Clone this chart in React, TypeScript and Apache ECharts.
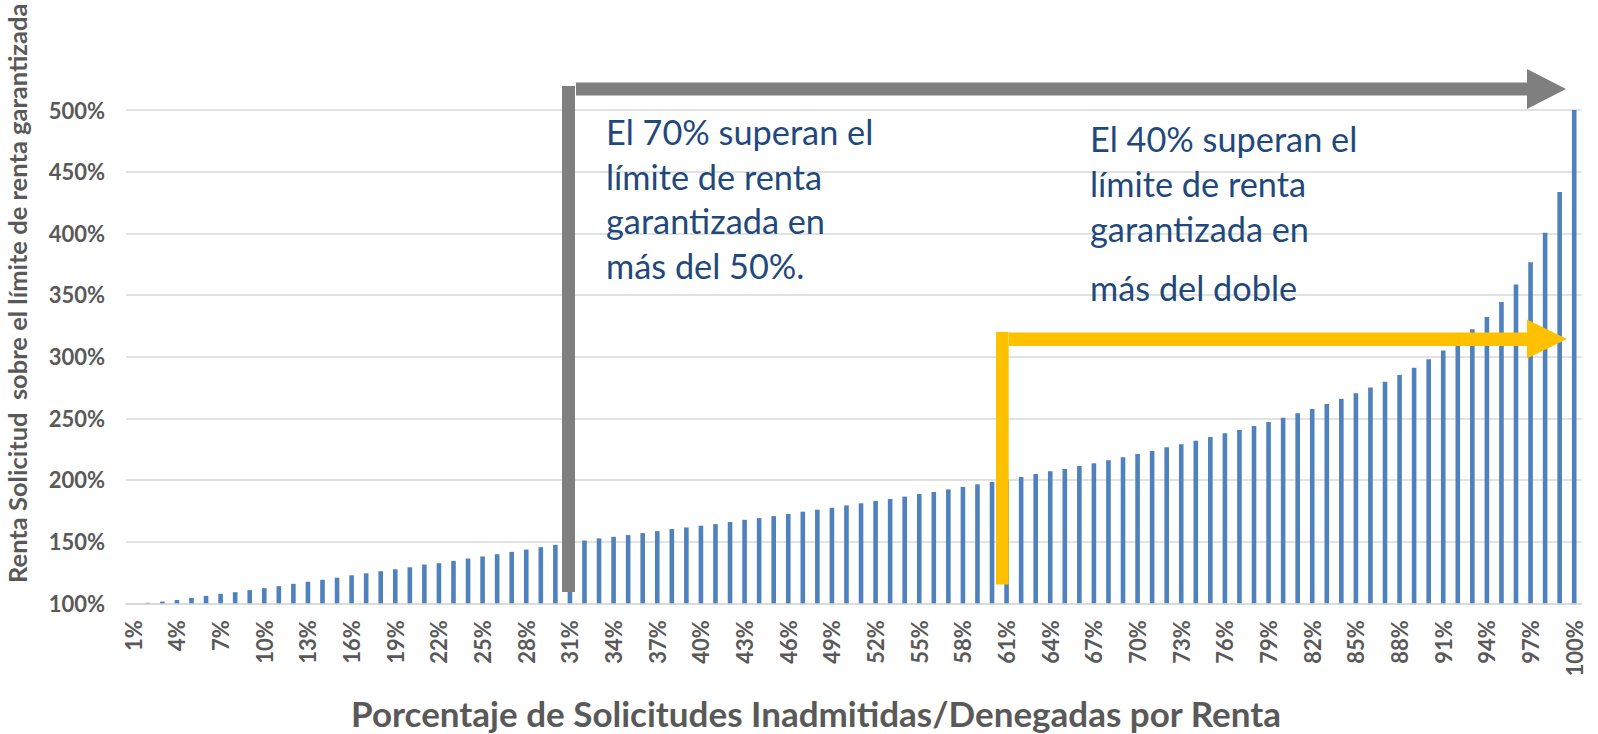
import React, { useEffect, useRef } from "react";
import * as echarts from "echarts";

const categories: string[] = Array.from({ length: 100 }, (_, i) => `${i + 1}%`);

const ratioValues: number[] = [
  100.0, 100.4, 101.4, 102.7, 104.4, 106.0, 107.7, 109.0, 110.7, 112.3,
  113.9, 115.8, 117.5, 119.1, 120.8, 122.7, 124.3, 126.0, 127.6, 129.2,
  131.4, 132.5, 134.4, 136.3, 138.0, 139.8, 141.7, 143.6, 145.5, 147.4,
  149.2, 150.9, 152.6, 153.9, 155.3, 156.9, 158.5, 160.2, 161.5, 162.9,
  164.2, 165.9, 167.7, 169.1, 170.7, 172.4, 174.3, 175.9, 177.5, 179.4,
  181.1, 183.0, 184.6, 186.5, 188.6, 190.3, 192.4, 194.3, 196.5, 198.4,
  200.3, 202.4, 204.9, 207.0, 208.9, 211.4, 213.5, 216.0, 218.4, 221.1,
  223.5, 226.5, 228.9, 231.9, 234.9, 237.8, 240.5, 243.8, 247.0, 250.5,
  254.1, 257.6, 261.6, 265.7, 270.3, 274.9, 279.7, 285.1, 291.1, 297.8,
  304.9, 313.0, 322.2, 332.2, 344.3, 358.6, 376.5, 400.5, 433.5, 500.0,
];

const yAxisTitle = "Renta Solicitud  sobre el límite de renta garantizada";
const xAxisTitle = "Porcentaje de Solicitudes Inadmitidas/Denegadas por Renta";
const note70: string[] = ["El 70% superan el", "límite de renta", "garantizada en", "más del 50%."];
const note40: string[] = ["El 40% superan el", "límite de renta", "garantizada en", "más del doble"];

const FONT = "Lato, 'Noto Sans', sans-serif";
const GRAY_TEXT = "#595959";
const NOTE_COLOR = "#1F497D";

export default function App() {
  const ref = useRef<HTMLDivElement>(null);

  useEffect(() => {
    if (!ref.current) return;
    const chart = echarts.init(ref.current, undefined, { renderer: "svg" });

    const noteSize = 34.3;
    const mid = (baseline: number) => baseline - 0.387 * noteSize;
    const note70Base = [145, 189.3, 234, 278.3];
    const note40Base = [151.7, 196.7, 241.7, 300.7];

    const noteTexts: any[] = [];
    note70.forEach((t, i) =>
      noteTexts.push({
        type: "text",
        x: 606,
        y: mid(note70Base[i]),
        style: { text: t, fill: NOTE_COLOR, font: `${noteSize}px ${FONT}`, align: "left", verticalAlign: "middle" },
        z: 20,
      })
    );
    note40.forEach((t, i) =>
      noteTexts.push({
        type: "text",
        x: 1090,
        y: mid(note40Base[i]),
        style: { text: t, fill: NOTE_COLOR, font: `${noteSize}px ${FONT}`, align: "left", verticalAlign: "middle" },
        z: 20,
      })
    );

    chart.setOption({
      animation: false,
      textStyle: { fontFamily: FONT },
      grid: { left: 126, right: 16.5, top: 110, bottom: 130.7, containLabel: false },
      xAxis: {
        type: "category",
        data: categories,
        boundaryGap: true,
        axisTick: { show: false },
        axisLine: { show: true, lineStyle: { color: "#D9D9D9", width: 1.5 } },
        axisLabel: {
          interval: 2,
          rotate: 90,
          margin: 17,
          fontSize: 22,
          fontWeight: "bold",
          color: GRAY_TEXT,
          fontFamily: FONT,
        },
      },
      yAxis: {
        type: "value",
        min: 100,
        max: 500,
        interval: 50,
        axisLine: { show: false },
        axisTick: { show: false },
        splitLine: { lineStyle: { color: "#D9D9D9", width: 1.5 } },
        axisLabel: {
          formatter: "{value}%",
          margin: 21,
          fontSize: 22,
          fontWeight: "bold",
          color: GRAY_TEXT,
          fontFamily: FONT,
        },
      },
      series: [
        {
          type: "bar",
          data: ratioValues,
          barWidth: 4.6,
          itemStyle: { color: "#4F81BD" },
        },
      ],
      graphic: [
        {
          type: "text",
          x: 17,
          y: 583,
          rotation: Math.PI / 2,
          style: {
            text: yAxisTitle,
            fill: GRAY_TEXT,
            font: `bold 25.5px ${FONT}`,
            align: "left",
            verticalAlign: "middle",
          },
        },
        {
          type: "text",
          x: 816,
          y: 727 - 0.387 * 35,
          style: {
            text: xAxisTitle,
            fill: GRAY_TEXT,
            font: `bold 35px ${FONT}`,
            align: "center",
            verticalAlign: "middle",
          },
        },
        // gray annotation: vertical bar + arrow to the right
        {
          type: "rect",
          shape: { x: 562, y: 86, width: 13, height: 506 },
          style: { fill: "#7F7F7F" },
          z: 10,
        },
        {
          type: "polygon",
          shape: {
            points: [
              [576, 82.5], [1527, 82.5], [1527, 69], [1566, 89], [1527, 109], [1527, 95.5], [576, 95.5],
            ],
          },
          style: { fill: "#7F7F7F" },
          z: 10,
        },
        // yellow annotation
        {
          type: "rect",
          shape: { x: 996, y: 332, width: 12.7, height: 252.5 },
          style: { fill: "#FFC000" },
          z: 10,
        },
        {
          type: "polygon",
          shape: {
            points: [
              [1009, 332.5], [1527, 332.5], [1527, 319.5], [1567, 339], [1527, 358.5], [1527, 346], [1009, 346],
            ],
          },
          style: { fill: "#FFC000" },
          z: 10,
        },
        ...noteTexts,
      ],
    });

    return () => chart.dispose();
  }, []);

  return (
    <div
      ref={ref}
      style={{ position: "fixed", left: 0, top: 0, width: 1598, height: 734, background: "#fff" }}
    />
  );
}
